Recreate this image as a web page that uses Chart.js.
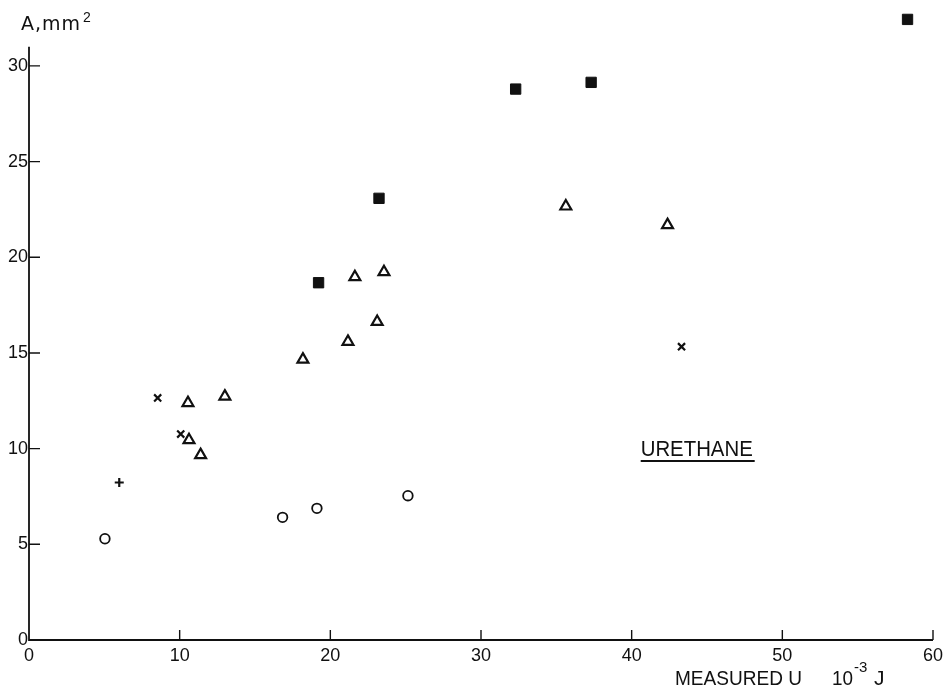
<!DOCTYPE html>
<html><head><meta charset="utf-8">
<script src="https://cdn.jsdelivr.net/npm/chart.js@4.4.0/dist/chart.umd.min.js"></script>
<style>html,body{margin:0;padding:0;background:#fff;}</style>
</head><body>
<canvas id="c" width="947" height="691"></canvas>
<script>
// Data (x: measured U, 10^-3 J ; y: A, mm^2)
const squaresX = [19.22, 23.23, 32.3, 37.31, 58.31];
const squaresY = [18.67, 23.08, 28.79, 29.14, 32.43];
const trianglesX = [10.55, 10.62, 11.39, 13.0, 18.18, 21.17, 21.63, 23.11, 23.56, 35.63, 42.38];
const trianglesY = [12.39, 10.45, 9.67, 12.73, 14.66, 15.59, 18.97, 16.63, 19.23, 22.66, 21.69];
const crossesX = [8.54, 10.07, 43.31];
const crossesY = [12.65, 10.76, 15.33];
const plusX = [5.99];
const plusY = [8.23];
const circlesX = [5.04, 16.83, 19.11, 25.15];
const circlesY = [5.29, 6.41, 6.88, 7.54];
const xTicks = [0, 10, 20, 30, 40, 50, 60];
const yTicks = [0, 5, 10, 15, 20, 25, 30];
const yAxisTop = 31;
const xTitle = "MEASURED U";
const xUnit = "10";
const xUnitExp = "-3";
const xUnitTail = "J";
const yTitle = "A,mm";
const yTitleExp = "2";
const annotation = "URETHANE";

const FONT = "'Liberation Sans', Arial, sans-serif";
const INK = "#111";

function pts(xs, ys){ return xs.map((x,i)=>({x:x, y:ys[i]})); }

const axesPlugin = {
  id: 'axesPlugin',
  afterDraw(chart){
    const ctx = chart.ctx;
    const xs = chart.scales.x, ys = chart.scales.y;
    ctx.save();
    ctx.strokeStyle = INK;
    ctx.lineWidth = 1.8;
    ctx.beginPath();
    ctx.moveTo(xs.getPixelForValue(0), ys.getPixelForValue(yAxisTop));
    ctx.lineTo(xs.getPixelForValue(0), ys.getPixelForValue(0));
    ctx.lineTo(xs.getPixelForValue(60), ys.getPixelForValue(0));
    ctx.stroke();
    ctx.lineWidth = 1.4;
    ctx.beginPath();
    yTicks.forEach(v => { if (v===0) return; const p = ys.getPixelForValue(v); const x0 = xs.getPixelForValue(0); ctx.moveTo(x0, p); ctx.lineTo(x0+11, p); });
    xTicks.forEach(v => { if (v===0) return; const p = xs.getPixelForValue(v); const y0 = ys.getPixelForValue(0); ctx.moveTo(p, y0); ctx.lineTo(p, y0-10); });
    ctx.stroke();
    ctx.fillStyle = INK;
    ctx.textBaseline = 'alphabetic';
    ctx.textAlign = 'left';
    ctx.font = "19px 'DejaVu Sans', sans-serif";
    try { ctx.letterSpacing = '1px'; } catch(e) {}
    ctx.fillText(yTitle, 21, 30);
    try { ctx.letterSpacing = '0px'; } catch(e) {}
    ctx.font = "14px " + FONT;
    ctx.fillText(yTitleExp, 83, 22);
    ctx.font = "21px " + FONT;
    ctx.fillText(xTitle, 675, 685, 127);
    ctx.fillText(xUnit, 832, 685, 21);
    ctx.font = "15px " + FONT;
    ctx.fillText(xUnitExp, 854, 672, 14);
    ctx.font = "21px " + FONT;
    ctx.fillText(xUnitTail, 874, 685);
    ctx.font = "22px " + FONT;
    const ax = xs.getPixelForValue(40.6), ay = ys.getPixelForValue(9.62);
    ctx.fillText(annotation, ax, ay, 112);
    ctx.lineWidth = 2;
    ctx.beginPath();
    ctx.moveTo(ax, ay + 5);
    ctx.lineTo(ax + 114, ay + 5);
    ctx.stroke();
    ctx.restore();
  }
};

new Chart(document.getElementById('c'), {
  type: 'scatter',
  data: {
    datasets: [
      { data: pts(squaresX, squaresY), pointStyle: 'rect', pointRadius: 7.3, backgroundColor: INK, borderColor: INK, borderWidth: 1 },
      { data: pts(trianglesX, trianglesY), pointStyle: 'triangle', pointRadius: 6.3, backgroundColor: 'rgba(0,0,0,0)', borderColor: INK, borderWidth: 2.2 },
      { data: pts(crossesX, crossesY), pointStyle: 'crossRot', pointRadius: 5, backgroundColor: INK, borderColor: INK, borderWidth: 2.2 },
      { data: pts(plusX, plusY), pointStyle: 'cross', pointRadius: 4.5, backgroundColor: INK, borderColor: INK, borderWidth: 2.2 },
      { data: pts(circlesX, circlesY), pointStyle: 'circle', pointRadius: 4.8, backgroundColor: 'rgba(0,0,0,0)', borderColor: INK, borderWidth: 1.8 }
    ]
  },
  options: {
    responsive: false,
    animation: false,
    devicePixelRatio: 1,
    layout: { padding: { top: 5, right: 14, left: 0, bottom: 0 } },
    plugins: { legend: { display: false }, tooltip: { enabled: false } },
    scales: {
      x: {
        type: 'linear', min: 0, max: 60,
        grid: { display: false }, border: { display: false },
        ticks: { stepSize: 10, padding: -3, color: INK, font: { family: FONT, size: 18 } },
        afterFit(s){ s.height = 51; }
      },
      y: {
        type: 'linear', min: 0, max: 33,
        grid: { display: false }, border: { display: false },
        ticks: { stepSize: 5, padding: -7, color: INK, font: { family: FONT, size: 18 } },
        afterBuildTicks(s){ s.ticks = s.ticks.filter(t => yTicks.includes(t.value)); },
        afterFit(s){ s.width = 29; }
      }
    }
  },
  plugins: [axesPlugin]
});
</script>
</body></html>
